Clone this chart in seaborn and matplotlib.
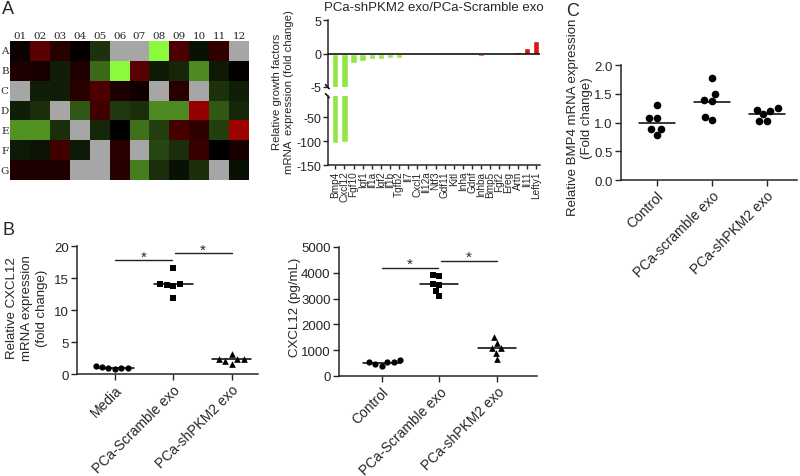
import numpy as np
import pandas as pd
import matplotlib
matplotlib.use("Agg")
import matplotlib.pyplot as plt
import seaborn as sns
from matplotlib.colors import LinearSegmentedColormap

# ---------------- data ----------------
# Panel A: array heatmap (positive = up / red, negative = down / green, NaN = gray)
row_labels = list("ABCDEFG")
col_labels = ["01", "02", "03", "04", "05", "06", "07", "08", "09", "10", "11", "12"]
heat_values = [
    [0.05, 0.35, 0.15, 0.02, -0.20, np.nan, np.nan, -1.00, 0.30, -0.07, 0.20, np.nan],
    [0.12, 0.10, -0.12, 0.12, -0.42, -1.00, 0.35, -0.10, -0.15, -0.55, -0.10, 0.02],
    [np.nan, -0.12, -0.12, 0.15, 0.30, 0.12, 0.06, np.nan, 0.15, np.nan, -0.20, -0.12],
    [-0.12, -0.18, np.nan, -0.35, 0.25, -0.22, -0.18, -0.55, -0.55, 0.58, -0.35, -0.15],
    [-0.58, -0.58, -0.18, np.nan, -0.15, 0.00, -0.45, -0.25, 0.28, 0.18, -0.25, 0.62],
    [-0.10, -0.08, 0.25, -0.10, np.nan, 0.17, np.nan, -0.28, -0.18, 0.22, 0.00, 0.10],
    [0.12, 0.12, 0.12, np.nan, np.nan, 0.15, -0.50, -0.18, -0.07, -0.18, np.nan, -0.07],
]

# Panel A: growth factor fold change bars
genes = ["Bmp4", "Cxcl12", "Fgf10", "Igf1", "Il1a", "Igf2", "Il1b", "Tgfb2", "Il7",
         "Cxcl1", "Il12a", "Ntf3", "Gdf11", "Kitl", "Inha", "Gdnf", "Inhba", "Bmp5",
         "Fgf2", "Ereg", "Artn", "Il11", "Lefty1"]
fold_change = [-103, -102, -1.35, -1.1, -0.85, -0.85, -0.7, -0.65, -0.2,
               -0.1, 0.1, 0.12, 0.15, 0.15, 0.18, 0.2, -0.3, -0.2,
               -0.15, 0.12, 0.15, 0.8, 1.8]
regulation = ["down"] * 16 + ["up"] * 7

# Panel B left: CXCL12 mRNA
b1_groups = ["Media", "PCa-Scramble exo", "PCa-shPKM2 exo"]
b1_media = [1.15, 0.97, 0.97, 1.2, 0.9, 0.85]
b1_scramble = [16.5, 14.1, 14.0, 13.9, 13.8, 11.8]
b1_shpkm2 = [2.35, 2.35, 3.1, 2.35, 2.05, 1.6]

# Panel B right: CXCL12 protein
b2_groups = ["Control", "PCa-Scramble exo", "PCa-shPKM2 exo"]
b2_control = [530, 530, 530, 632, 465, 400]
b2_scramble = [3864, 3926, 3554, 3539, 3306, 3112]
b2_shpkm2 = [1279, 1500, 903, 1097, 1074, 647]

# Panel C: BMP4 mRNA
c_groups = ["Control", "PCa-scramble exo", "PCa-shPKM2 exo"]
c_control = [1.30, 1.07, 1.07, 0.89, 0.88, 0.78]
c_scramble = [1.77, 1.49, 1.39, 1.37, 1.10, 1.04]
c_shpkm2 = [1.22, 1.26, 1.20, 1.14, 1.02, 1.02]

# ---------------- style ----------------
sns.set_theme(style="ticks")
plt.rcParams['font.family'] = ['Liberation Sans', 'DejaVu Sans']
plt.rcParams['axes.unicode_minus'] = False
plt.rcParams['axes.linewidth'] = 1.1

fig = plt.figure(figsize=(8, 4.77), dpi=100)
W, H = 800.0, 477.0


def px_axes(x0, y0, x1, y1):
    return fig.add_axes([x0 / W, 1 - y1 / H, (x1 - x0) / W, (y1 - y0) / H])


# ---------------- Panel A heatmap ----------------
axA = px_axes(10, 42, 249, 181)
heat_df = pd.DataFrame(heat_values, index=row_labels, columns=col_labels)
cmap = LinearSegmentedColormap.from_list("gkr", ["#8CFA3C", "#000000", "#FF0000"])
sns.heatmap(heat_df, cmap=cmap, vmin=-1, vmax=1, cbar=False, ax=axA)
axA.set_facecolor("#A6A6A6")
axA.xaxis.tick_top()
axA.tick_params(length=0, pad=1, labelsize=7.5)
axA.set_yticklabels(row_labels, rotation=0)
axA.set_xticklabels(col_labels, rotation=0)
for lab in axA.get_xticklabels() + axA.get_yticklabels():
    lab.set_family("DejaVu Serif")
axA.set_xlabel("")
axA.set_ylabel("")

# ---------------- Panel A bars (broken axis) ----------------
axT = px_axes(328, 21, 540, 88)
axL = px_axes(328, 97, 540, 166)
bar_df = pd.DataFrame({"gene": genes, "fc": fold_change, "reg": regulation})
pal = {"down": "#93E646", "up": "#D81414"}
for ax in (axT, axL):
    sns.barplot(data=bar_df, x="gene", y="fc", hue="reg", palette=pal, order=genes,
                dodge=False, width=0.7, legend=False, ax=ax, saturation=1)
    ax.set_xlim(-0.8, len(genes) - 0.55)
    ax.set_xlabel("")
    ax.set_ylabel("")
    ax.spines["top"].set_visible(False)
    ax.spines["right"].set_visible(False)
    ax.tick_params(direction="out", length=3.5, width=1, labelsize=9, pad=1.5)

axT.set_ylim(-5, 5)
axT.set_yticks([5, 0, -5])
axT.spines["bottom"].set_visible(False)
axT.tick_params(axis="x", bottom=False, labelbottom=False)
axT.axhline(0, color="black", lw=1.1, zorder=5)
axT.set_title("PCa-shPKM2 exo/PCa-Scramble exo", fontsize=9.5, pad=7)

axL.set_ylim(-150, -5)
axL.set_yticks([-50, -100, -150])
axL.set_xticks(range(len(genes)))
axL.set_xticklabels(genes, rotation=90, fontsize=7.2)
axL.tick_params(axis="x", length=3, pad=1)

# break marks
for ax, yb in ((axT, 0.0), (axL, 1.0)):
    ax.plot([-0.012, 0.006], [yb + 0.035, yb - 0.025], transform=ax.transAxes,
            color="black", lw=1.1, clip_on=False)

fig.text(283 / W, 1 - 92 / H, "Relative growth factors\nmRNA  expression (fold change)",
         rotation=90, ha="center", va="center", fontsize=8.2, linespacing=1.3)


# ---------------- dot plots ----------------
def dot_panel(ax, groups, values, markers, sizes, ylim, yticks, xlim, ylabel, label_xy, sig=None):
    df = pd.DataFrame({
        "group": np.repeat(groups, [len(v) for v in values]),
        "value": np.concatenate(values),
    })
    for g, m, s in zip(groups, markers, sizes):
        sns.swarmplot(data=df[df["group"] == g], x="group", y="value", order=groups,
                      marker=m, color="black", size=s, ax=ax, zorder=3)
    means = df.groupby("group", sort=False)["value"].mean()
    for i, g in enumerate(groups):
        ax.plot([i - 0.33, i + 0.33], [means[g], means[g]], color="black", lw=1.1, zorder=2)
    ax.set_ylim(*ylim)
    ax.set_yticks(yticks)
    ax.set_xlim(*xlim)
    ax.spines["top"].set_visible(False)
    ax.spines["right"].set_visible(False)
    ax.tick_params(direction="out", length=4, width=1, labelsize=9.5, pad=2)
    ax.set_xticks(range(len(groups)))
    ax.set_xticklabels(groups, rotation=45, ha="right", rotation_mode="anchor", fontsize=10)
    ax.set_xlabel("")
    ax.set_ylabel(ylabel, fontsize=9.5, linespacing=1.3)
    ax.yaxis.set_label_coords(*label_xy)
    ax.yaxis.label.set_verticalalignment("center")
    if sig:
        for (x0, x1, y) in sig:
            ax.plot([x0, x1], [y, y], color="#222222", lw=1.0, clip_on=False)
            ax.annotate("*", (0.5 * (x0 + x1), y), xytext=(0, 2.5), textcoords="offset points",
                        ha="center", va="center", fontsize=11, annotation_clip=False)


axB1 = px_axes(77, 247, 258, 375)
dot_panel(axB1, b1_groups, [b1_media, b1_scramble, b1_shpkm2], ["o", "s", "^"], [4.5, 4.5, 4.8],
          (0, 20), [0, 5, 10, 15, 20], (-0.65, 2.45),
          "Relative CXCL12\nmRNA expression\n(fold change)", (-0.276, 0.52),
          sig=[(0, 0.98, 17.8), (1.02, 2.0, 18.9)])

axB2 = px_axes(339, 248, 537, 377)
dot_panel(axB2, b2_groups, [b2_control, b2_scramble, b2_shpkm2], ["o", "s", "^"], [4.5, 4.5, 4.8],
          (0, 5000), [0, 1000, 2000, 3000, 4000, 5000], (-0.74, 2.69),
          "CXCL12 (pg/mL)", (-0.222, 0.54),
          sig=[(0, 0.98, 4200), (1.02, 2.0, 4470)])

axC = px_axes(621, 66, 797, 181)
dot_panel(axC, c_groups, [c_control, c_scramble, c_shpkm2], ["o", "o", "o"], [5.5, 5.5, 5.5],
          (0, 2.0), [0.0, 0.5, 1.0, 1.5, 2.0], (-0.65, 2.55),
          "Relative BMP4 mRNA expression\n(Fold change)", (-0.233, 0.55))
axC.set_yticklabels(["0.0", "0.5", "1.0", "1.5", "2.0"])

# panel letters
fig.text(2 / W, 1 - 9 / H, "A", fontsize=13, va="center", ha="left")
fig.text(3 / W, 1 - 231 / H, "B", fontsize=13, va="center", ha="left")
fig.text(566 / W, 1 - 11 / H, "C", fontsize=13, va="center", ha="left")

fig.savefig("out.png", dpi=100)
